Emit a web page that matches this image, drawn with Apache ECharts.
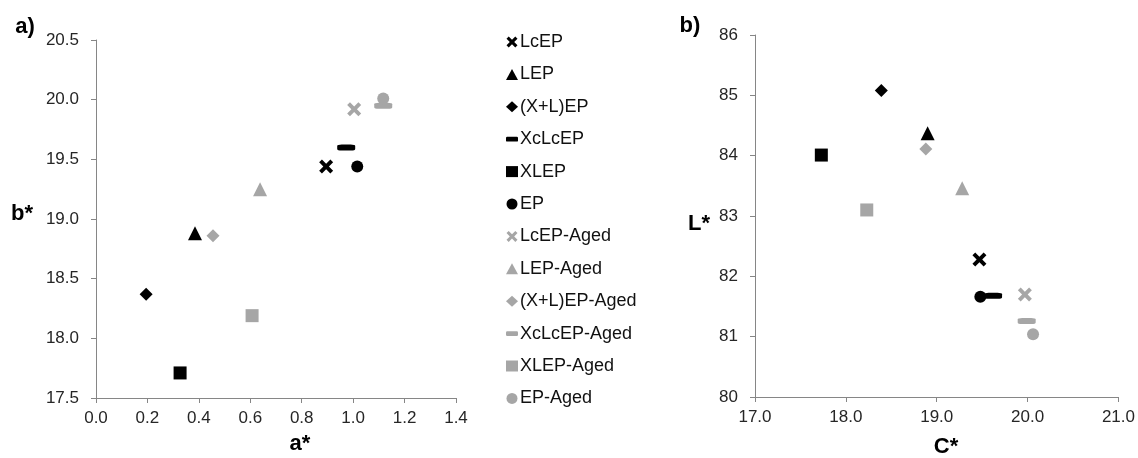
<!DOCTYPE html>
<html>
<head>
<meta charset="utf-8">
<script src="https://cdn.jsdelivr.net/npm/echarts@6/dist/echarts.min.js"></script>
<style>
html,body{margin:0;padding:0;background:#fff;}
#chart{width:1138px;height:458px;}
</style>
</head>
<body>
<div id="chart"></div>
<script>
// ---- data ----
const seriesNames = ['LcEP','LEP','(X+L)EP','XcLcEP','XLEP','EP',
  'LcEP-Aged','LEP-Aged','(X+L)EP-Aged','XcLcEP-Aged','XLEP-Aged','EP-Aged'];
const aStar = [0.895, 0.385, 0.195, 0.973, 0.327, 1.016, 1.004, 0.638, 0.455, 1.117, 0.607, 1.117];
const bStar = [19.44, 18.88, 18.37, 19.60, 17.71, 19.44, 19.92, 19.25, 18.86, 19.95, 18.19, 20.01];
const cStar = [19.47, 18.90, 18.39, 19.62, 17.73, 19.48, 19.97, 19.28, 18.88, 19.99, 18.23, 20.06];
const lStar = [82.28, 84.37, 85.08, 81.68, 84.01, 81.66, 81.70, 83.46, 84.11, 81.26, 83.10, 81.04];
const aTicks = [0.0, 0.2, 0.4, 0.6, 0.8, 1.0, 1.2, 1.4];
const bTicks = [17.5, 18.0, 18.5, 19.0, 19.5, 20.0, 20.5];
const cTicks = [17.0, 18.0, 19.0, 20.0, 21.0];
const lTicks = [80, 81, 82, 83, 84, 85, 86];

// ---- styles ----
const BLACK = '#000000', GRAY = '#a6a6a6';
const X_PATH = 'path://M0,2 L2,0 L5,3 L8,0 L10,2 L7,5 L10,8 L8,10 L5,7 L2,10 L0,8 L3,5 Z';
const shapeKinds = ['x','triangle','diamond','dash','rect','circle'];
function symbolFor(kind){
  if (kind === 'x') return X_PATH;
  if (kind === 'dash') return 'roundRect';
  return kind;
}
function sizeFor(kind){
  switch(kind){
    case 'x': return 14;
    case 'triangle': return 14;
    case 'diamond': return 13;
    case 'dash': return [18, 6];
    case 'rect': return 13;
    case 'circle': return 12;
  }
}
const series = [];
seriesNames.forEach((name, i) => {
  const kind = shapeKinds[i % 6];
  const color = i < 6 ? BLACK : GRAY;
  const common = {
    name: name, type: 'scatter',
    symbol: symbolFor(kind), symbolSize: sizeFor(kind),
    itemStyle: {color: color, opacity: 1},
    emphasis: {disabled: true},
    z: i < 6 ? 3 : 2
  };
  series.push(Object.assign({}, common, {xAxisIndex: 0, yAxisIndex: 0, data: [[aStar[i], bStar[i]]]}));
  series.push(Object.assign({}, common, {xAxisIndex: 1, yAxisIndex: 1, data: [[cStar[i], lStar[i]]]}));
});

const axisLineStyle = {lineStyle: {color: '#868686', width: 1}};
const tickLabel = (dec, margin) => ({
  color: '#262626', fontFamily: 'Liberation Sans, Arial, sans-serif', fontSize: 17,
  margin: margin, formatter: v => Number(v).toFixed(dec), showMinLabel: true, showMaxLabel: true
});
function valAxis(ticks, dec, gridIndex, margin){
  return {
    type: 'value', gridIndex: gridIndex,
    min: ticks[0], max: ticks[ticks.length - 1],
    interval: +(ticks[1] - ticks[0]).toFixed(4),
    axisLine: Object.assign({show: true, onZero: false}, axisLineStyle),
    axisTick: {show: true, length: 5, inside: false, lineStyle: {color: '#868686'}},
    splitLine: {show: false},
    axisLabel: tickLabel(dec, margin)
  };
}

const legendIcons = seriesNames.map((n, i) => {
  const kind = shapeKinds[i % 6];
  let icon = symbolFor(kind);
  if (kind === 'dash') icon = 'path://M1,0 L9,0 Q10,0 10,1 L10,3 Q10,4 9,4 L1,4 Q0,4 0,3 L0,1 Q0,0 1,0 Z';
  return {name: n, icon: icon};
});

const titleFont = {fontFamily: 'Liberation Sans, Arial, sans-serif', fontSize: 22, fontWeight: 'bold', fill: '#000'};
function centered(text, cx, cy, size){
  return {type: 'text', x: cx, y: cy,
    style: Object.assign({}, titleFont, {text: text, fontSize: size || 22, align: 'center', verticalAlign: 'middle'}),
    silent: true};
}

const chart = echarts.init(document.getElementById('chart'), null, {renderer: 'canvas'});
chart.setOption({
  animation: false,
  backgroundColor: '#ffffff',
  grid: [
    {left: 96, top: 40, width: 360, height: 358},
    {left: 755, top: 35, width: 364, height: 362}
  ],
  xAxis: [valAxis(aTicks, 1, 0, 12), valAxis(cTicks, 1, 1, 12)],
  yAxis: [valAxis(bTicks, 1, 0, 17), valAxis(lTicks, 0, 1, 17)],
  legend: {
    orient: 'vertical', left: 501, top: 28,
    itemWidth: 12, itemHeight: 11, itemGap: 14.4,
    data: legendIcons,
    selectedMode: false,
    textStyle: {color: '#111', fontFamily: 'Liberation Sans, Arial, sans-serif', fontSize: 18, lineHeight: 18, padding: [0,0,0,-3]}
  },
  graphic: [
    centered('a)', 25, 27),
    centered('b)', 690, 26),
    centered('b*', 22, 214),
    centered('a*', 300, 444),
    centered('L*', 699, 224),
    centered('C*', 946, 447)
  ],
  series: series
});
</script>
</body>
</html>
